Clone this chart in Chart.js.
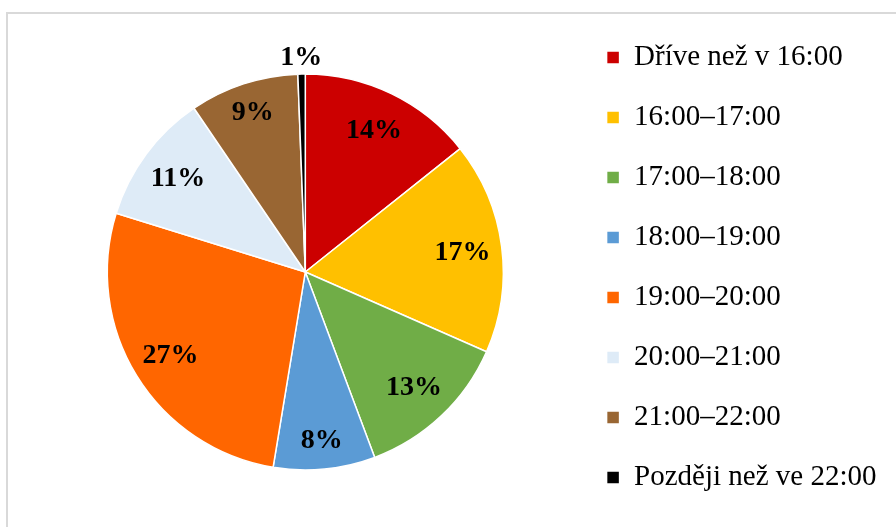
<!DOCTYPE html>
<html>
<head>
<meta charset="utf-8">
<script src="https://cdn.jsdelivr.net/npm/chart.js@4"></script>
<style>
  html, body { margin: 0; padding: 0; background: #fff; overflow: hidden; width: 896px; height: 527px; }
  #frame { position: absolute; left: 6px; top: 12px; width: 1000px; height: 1000px; border: 2px solid #d9d9d9; box-sizing: border-box; }
  #wrap { position: absolute; left: 0; top: 0; width: 896px; height: 532px; }
</style>
</head>
<body>
<div id="frame"></div>
<div id="wrap"><canvas id="pieChart"></canvas></div>
<script>
// Data (share of answers, %)
const categories = [
  "Dříve než v 16:00",
  "16:00–17:00",
  "17:00–18:00",
  "18:00–19:00",
  "19:00–20:00",
  "20:00–21:00",
  "21:00–22:00",
  "Později než ve 22:00"
];
const shares = [14.3, 17.3, 12.7, 8.3, 27.2, 10.7, 8.9, 0.6];
const sliceColors = ["#cc0000", "#ffc000", "#70ad47", "#5b9bd5", "#ff6600", "#deebf7", "#996633", "#000000"];

// percentage labels on the slices (tiny slices go outside)
const pctLabels = {
  id: "pctLabels",
  afterDatasetsDraw(chart) {
    const ctx = chart.ctx;
    const data = chart.data.datasets[0].data;
    const total = data.reduce((s, v) => s + v, 0);
    ctx.save();
    ctx.font = 'bold 28px "Liberation Serif", "Times New Roman", serif';
    ctx.fillStyle = "#000";
    ctx.textAlign = "center";
    ctx.textBaseline = "middle";
    chart.getDatasetMeta(0).data.forEach((arc, i) => {
      const p = arc.getProps(["x", "y", "startAngle", "endAngle", "outerRadius"], true);
      const mid = (p.startAngle + p.endAngle) / 2;
      const pct = data[i] / total * 100;
      let r = p.outerRadius * 0.8;
      if (pct < 2) r = p.outerRadius + 17;
      else if (pct < 10) r = p.outerRadius * 0.85;
      ctx.fillText(Math.round(pct) + "%", p.x + Math.cos(mid) * r, p.y + Math.sin(mid) * r + 1);
    });
    ctx.restore();
  }
};

new Chart(document.getElementById("pieChart"), {
  type: "pie",
  data: {
    labels: categories,
    datasets: [{
      data: shares,
      backgroundColor: sliceColors,
      borderColor: "#ffffff",
      borderWidth: 1.5
    }]
  },
  options: {
    responsive: true,
    maintainAspectRatio: false,
    animation: false,
    radius: 198,
    layout: { padding: { left: 35, right: 9.5, top: 12, bottom: 0 } },
    plugins: {
      legend: {
        position: "right",
        align: "start",
        labels: {
          color: "#000",
          font: { family: '"Liberation Serif", "Times New Roman", serif', size: 29 },
          boxWidth: 13,
          boxHeight: 13,
          padding: 31
        }
      },
      tooltip: { enabled: false }
    }
  },
  plugins: [pctLabels]
});
</script>
</body>
</html>
